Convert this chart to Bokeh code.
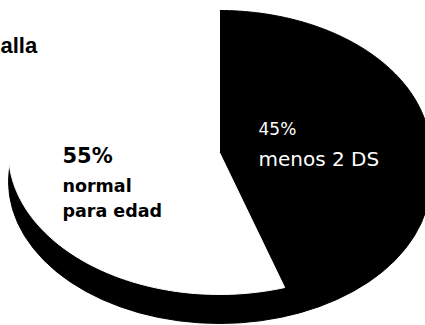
import numpy as np
from bokeh.plotting import figure
from bokeh.models import Range1d
from bokeh.core.properties import value
from bokeh.embed import file_html
from bokeh.resources import INLINE

# Slices in drawing order, clockwise from 12 o'clock
slice_labels = ["menos 2 DS", "normal\npara edad"]
slice_values = [45, 55]
slice_colors = ["#000000", "#ffffff"]
title_text = "alla"

W, H = 425, 325
# 3D pie geometry (screen-like coordinates, y grows downward)
CX, CY = 219, 152
RX, RY = 211, 142
DEPTH = 29

p = figure(width=W, height=H, output_backend="svg", toolbar_location=None,
           x_range=Range1d(0, W), y_range=Range1d(H, 0),
           x_axis_location=None, y_axis_location=None, min_border=0)
p.grid.visible = False
p.outline_line_color = None
p.background_fill_color = "white"
p.border_fill_color = "white"

# side wall of the pie: the shifted base ellipse peeking out below the top face
p.ellipse(x=[CX], y=[CY + DEPTH], width=[2 * RX], height=[2 * RY],
          fill_color="black", line_color="black")

# top faces of the slices
total = float(sum(slice_values))
start = np.pi / 2
xs, ys = [], []
for v in slice_values:
    end = start - 2 * np.pi * v / total
    t = np.linspace(start, end, 240)
    xs.append([CX] + list(CX + RX * np.cos(t)) + [CX])
    ys.append([CY] + list(CY - RY * np.sin(t)) + [CY])
    start = end
p.patches(xs, ys, fill_color=slice_colors, line_color=slice_colors, line_width=1)

# title fragment at the top left
p.text(x=[0], y=[45], text=[title_text], text_font=value("Liberation Sans"),
       text_font_style="bold", text_font_size="22px", text_color="black",
       text_baseline="alphabetic")

# label of the white slice
white_pct, black_pct = slice_values[1], slice_values[0]
p.text(x=[62], y=[155], text=[f"{white_pct}%"], text_font=value("DejaVu Sans"),
       text_font_style="bold", text_font_size="21px", text_color="black",
       text_baseline="alphabetic")
white_lines = slice_labels[1].split("\n")
p.text(x=[62, 62], y=[185, 210], text=white_lines, text_font=value("DejaVu Sans"),
       text_font_style="bold", text_font_size="17.5px", text_color="black",
       text_baseline="alphabetic")

# label of the black slice
p.text(x=[258], y=[128], text=[f"{black_pct}%"], text_font=value("DejaVu Sans"),
       text_font_size="17px", text_color="white", text_baseline="alphabetic")
p.text(x=[258], y=[158], text=[slice_labels[0]], text_font=value("DejaVu Sans"),
       text_font_size="20px", text_color="white", text_baseline="alphabetic")

open("out.html", "w").write(file_html(p, INLINE))
